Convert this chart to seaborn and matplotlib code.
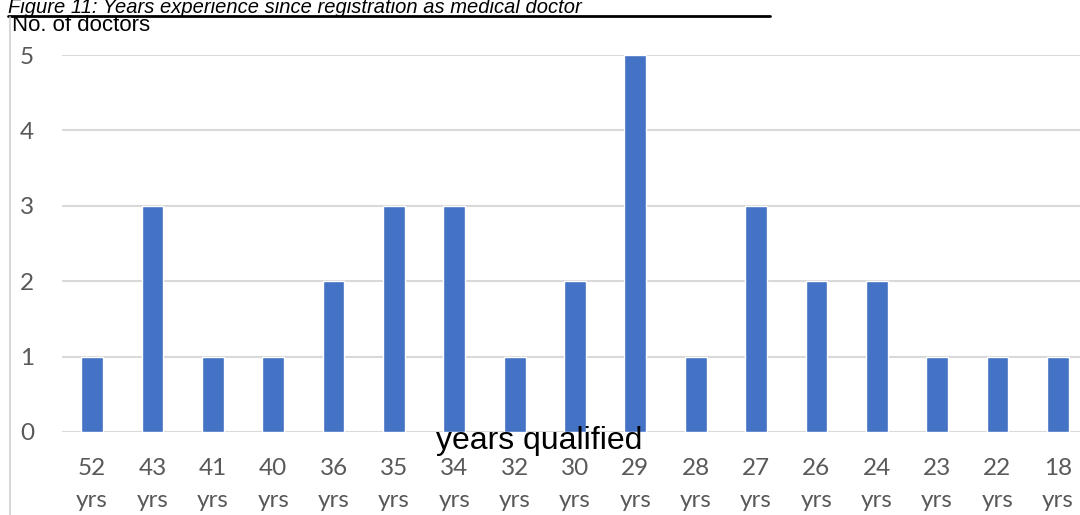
import matplotlib
matplotlib.use("Agg")
import matplotlib.pyplot as plt
from matplotlib.lines import Line2D
import seaborn as sns
import pandas as pd

# Data
years = ["52", "43", "41", "40", "36", "35", "34", "32", "30", "29",
         "28", "27", "26", "24", "23", "22", "18"]
doctors = [1, 3, 1, 1, 2, 3, 3, 1, 2, 5, 1, 3, 2, 2, 1, 1, 1]
labels = [y + "\nyrs" for y in years]

df = pd.DataFrame({"label": labels, "doctors": doctors})

sns.set_style("white")
plt.rcParams["font.family"] = ["Lato", "DejaVu Sans"]

W, H = 1080, 515
fig = plt.figure(figsize=(W / 100, H / 100), dpi=100)
# plot area in pixels: left 62, right 1088 (cropped), top 55, bottom 432
ax = fig.add_axes([62 / W, (H - 432) / H, 1026 / W, (432 - 55) / H])

sns.barplot(data=df, x="label", y="doctors", color="#4472C4", width=0.36,
            saturation=1, ax=ax, zorder=3)

ax.set_ylim(0, 5)
ax.set_xlim(-0.5, 16.5)
ax.set_yticks(range(0, 6))
ax.yaxis.grid(True, color="#D9D9D9", linewidth=1.5, zorder=0)
ax.set_axisbelow(True)
for s in ax.spines.values():
    s.set_visible(False)
ax.tick_params(axis="both", length=0, colors="#595959", labelsize=17.5)
ax.tick_params(axis="y", pad=20)
ax.tick_params(axis="x", pad=19)
for t in ax.get_xticklabels():
    t.set_linespacing(1.6)
ax.set_xlabel("")
ax.set_ylabel("")

# axis titles
fig.text(12 / W, 1 - 31 / H, "No. of doctors", fontsize=16, color="black",
         family="Liberation Sans", va="baseline", ha="left")
fig.text(539 / W, 1 - 441 / H, "years qualified", fontsize=23, color="black",
         family="Liberation Sans", va="center", ha="center")

# figure caption at the top (cropped in the source image)
fig.text(8 / W, 1 - 13 / H,
         "Figure 11: Years experience since registration as medical doctor",
         fontsize=14.5, style="italic", color="black", family="Liberation Sans",
         va="baseline", ha="left")
fig.add_artist(Line2D([8 / W, 770 / W], [1 - 15.5 / H, 1 - 15.5 / H],
                      color="black", linewidth=2, transform=fig.transFigure))
# left frame edge of the pasted chart
fig.add_artist(Line2D([10 / W, 10 / W], [0, 1 - 17 / H],
                      color="#D0D0D0", linewidth=1.2, transform=fig.transFigure))

fig.savefig("out.png", dpi=100)
